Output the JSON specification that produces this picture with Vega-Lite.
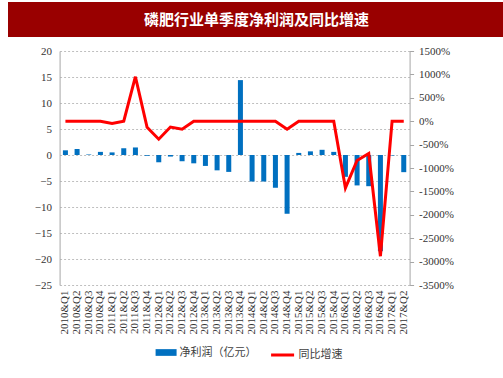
{
  "$schema": "https://vega.github.io/schema/vega-lite/v6.json",
  "padding": {"left": 3, "top": 2, "right": 0, "bottom": 0},
  "background": "white",
  "spacing": 8,
  "center": true,
  "resolve": {"legend": {"fill": "independent", "stroke": "independent"}},
  "config": {"view": {"stroke": null}, "font": "Liberation Serif"},
  "datasets": {
    "quarters": [
      {"q": "2010&Q1", "profit": 0.9, "growth": 0},
      {"q": "2010&Q2", "profit": 1.15, "growth": 0},
      {"q": "2010&Q3", "profit": 0.1, "growth": 0},
      {"q": "2010&Q4", "profit": 0.6, "growth": 0},
      {"q": "2011&Q1", "profit": 0.5, "growth": -50},
      {"q": "2011&Q2", "profit": 1.3, "growth": 0},
      {"q": "2011&Q3", "profit": 1.45, "growth": 950},
      {"q": "2011&Q4", "profit": -0.15, "growth": -130},
      {"q": "2012&Q1", "profit": -1.4, "growth": -385},
      {"q": "2012&Q2", "profit": -0.3, "growth": -125},
      {"q": "2012&Q3", "profit": -1.2, "growth": -170},
      {"q": "2012&Q4", "profit": -1.6, "growth": 0},
      {"q": "2013&Q1", "profit": -2.1, "growth": 0},
      {"q": "2013&Q2", "profit": -2.95, "growth": 0},
      {"q": "2013&Q3", "profit": -3.25, "growth": 0},
      {"q": "2013&Q4", "profit": 14.4, "growth": 0},
      {"q": "2014&Q1", "profit": -5.1, "growth": 0},
      {"q": "2014&Q2", "profit": -5.1, "growth": 0},
      {"q": "2014&Q3", "profit": -6.3, "growth": 0},
      {"q": "2014&Q4", "profit": -11.3, "growth": -170},
      {"q": "2015&Q1", "profit": 0.4, "growth": 0},
      {"q": "2015&Q2", "profit": 0.7, "growth": 0},
      {"q": "2015&Q3", "profit": 1.0, "growth": 0},
      {"q": "2015&Q4", "profit": 0.6, "growth": 0},
      {"q": "2016&Q1", "profit": -4.2, "growth": -1425},
      {"q": "2016&Q2", "profit": -5.85, "growth": -840},
      {"q": "2016&Q3", "profit": -6.0, "growth": -690},
      {"q": "2016&Q4", "profit": -18.5, "growth": -2885},
      {"q": "2017&Q1", "profit": -0.1, "growth": 0},
      {"q": "2017&Q2", "profit": -3.3, "growth": 0}
    ],
    "heading": [{"title": "磷肥行业单季度净利润及同比增速"}]
  },
  "vconcat": [
    {
      "width": 497,
      "height": 35,
      "data": {"name": "heading"},
      "layer": [
        {"mark": {"type": "rect", "color": "#990000"}, "encoding": {}},
        {
          "mark": {"type": "text", "color": "white", "font": "Noto Sans CJK SC", "fontSize": 15, "fontWeight": "bold", "align": "center", "baseline": "middle"},
          "encoding": {"text": {"field": "title"}}
        }
      ]
    },
    {
      "width": 350,
      "height": 234,
      "data": {"name": "quarters"},
      "encoding": {
        "x": {
          "field": "q", "type": "ordinal", "sort": null,
          "scale": {"paddingInner": 0.57, "paddingOuter": 0.285},
          "axis": {"title": null, "labelAngle": -90, "labelFontSize": 11, "labelColor": "#333333", "domain": false, "ticks": false, "labelPadding": 5, "labelFont": "Liberation Serif"}
        }
      },
      "layer": [
        {
          "mark": {"type": "bar"},
          "encoding": {
            "y": {
              "field": "profit", "type": "quantitative",
              "scale": {"domain": [-25, 20], "nice": false, "zero": false},
              "axis": {"title": null, "values": [-25, -20, -15, -10, -5, 0, 5, 10, 15, 20], "orient": "left", "labelFontSize": 11, "labelColor": "#333333", "ticks": false, "labelPadding": 8, "domainColor": "#a6a6a6", "grid": true, "gridColor": "#bfbfbf", "gridDash": [2, 2], "minExtent": 56}
            },
            "fill": {
              "datum": "净利润（亿元）",
              "scale": {"range": ["#0070C0"]},
              "legend": {"title": null, "orient": "none", "legendX": 96, "legendY": 291, "symbolType": "M-1,-0.32H1V0.32H-1Z", "symbolSize": 441, "symbolStrokeWidth": 0, "labelFont": "Noto Sans CJK SC", "labelFontSize": 11, "labelColor": "#404040", "labelOffset": 3}
            }
          }
        },
        {
          "mark": {"type": "line", "strokeWidth": 3},
          "encoding": {
            "x": {"field": "q", "type": "ordinal", "sort": null, "bandPosition": 0.5},
            "y": {
              "field": "growth", "type": "quantitative",
              "scale": {"domain": [-3500, 1500], "nice": false, "zero": false},
              "axis": {"title": null, "orient": "right", "values": [-3500, -3000, -2500, -2000, -1500, -1000, -500, 0, 500, 1000, 1500], "labelExpr": "datum.value + '%'", "labelFontSize": 11, "labelColor": "#333333", "tickSize": 4, "tickColor": "#a6a6a6", "domainColor": "#a6a6a6", "labelPadding": 5, "grid": false}
            },
            "stroke": {
              "datum": "同比增速",
              "scale": {"range": ["#FF0000"]},
              "legend": {"title": null, "orient": "none", "legendX": 210, "legendY": 291, "symbolType": "stroke", "symbolSize": 529, "symbolStrokeWidth": 3, "labelFont": "Noto Sans CJK SC", "labelFontSize": 11, "labelColor": "#404040", "labelOffset": 3}
            }
          }
        }
      ],
      "resolve": {"scale": {"y": "independent"}}
    }
  ]
}
